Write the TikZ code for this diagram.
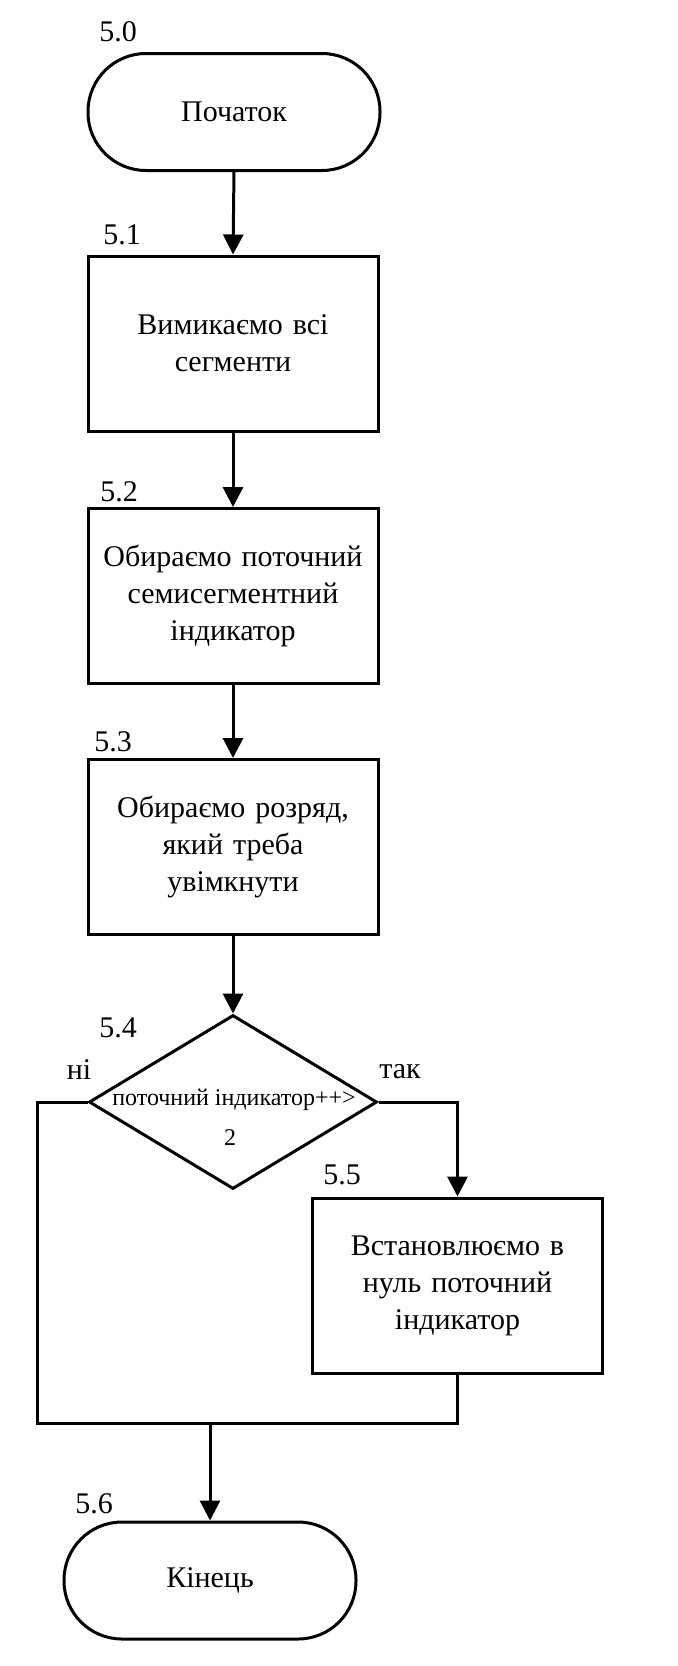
\documentclass[tikz,border=0pt]{standalone}
\usepackage{fontspec}
\setmainfont{Liberation Serif}
\usetikzlibrary{arrows.meta,shapes.geometric}
\begin{document}
\begin{tikzpicture}[x=0.5pt,y=-0.5pt,
  every node/.style={font=\fontsize{15}{18.5}\selectfont},
  blk/.style={draw, line width=1.5pt, minimum width=145pt, minimum height=87.5pt, text width=135pt, align=center, inner sep=0pt},
  term/.style={draw, line width=1.5pt, rounded corners=29pt, minimum width=146pt, minimum height=58.5pt, inner sep=0pt},
  dec/.style={draw, diamond, line width=1.5pt, minimum width=144pt, minimum height=87pt, inner sep=0pt},
  lbl/.style={inner sep=0pt},
  conn/.style={line width=1.5pt},
  arr/.style={line width=1.5pt, -{Triangle[length=10pt,width=10pt]}}
]
\useasboundingbox (0,0) rectangle (678,1666);

\node[term] (s) at (234,112) {Початок};
\node[blk] (b1) at (233,343.5) {Вимикаємо всі\\сегменти};
\node[blk] (b2) at (233,596) {Обираємо поточний\\семисегментний\\індикатор};
\node[blk] (b3) at (233,847) {Обираємо розряд,\\який треба\\увімкнути};
\node[dec] (d) at (233,1102) {};
\node[inner sep=0pt, font=\fontsize{12}{14}\selectfont] (dt1) at (234,1100) {поточний індикатор++>};
\node[inner sep=0pt, font=\fontsize{12}{14}\selectfont] (dt2) at (230,1138) {2};
\node[blk] (b5) at (457.5,1285.5) {Встановлюємо в\\нуль поточний\\індикатор};
\node[term] (e) at (210,1580.5) {Кінець};

\node[lbl] (l0) at (118,32) {5.0};
\node[lbl] (l1) at (122,235) {5.1};
\node[lbl] (l2) at (119,492) {5.2};
\node[lbl] (l3) at (113,742) {5.3};
\node[lbl] (l4) at (118,1028) {5.4};
\node[lbl] (l5) at (342,1175) {5.5};
\node[lbl] (l6) at (94,1504) {5.6};
\node[lbl] (no) at (79,1070) {ні};
\node[lbl] (yes) at (400,1072) {так};

\coordinate (cl) at (37,1423);
\coordinate (m) at (210,1423);

\draw[arr] (s.south) -- (b1.north);
\draw[arr] (b1.south) -- (b2.north);
\draw[arr] (b2.south) -- (b3.north);
\draw[arr] (b3.south) -- (d.north);
\draw[arr] (d.east) -| (b5.north);
\draw[conn] (d.west) -| (cl) -- (m);
\draw[conn] (b5.south) |- (m);
\draw[arr] (m) -- (e.north);
\end{tikzpicture}
\end{document}
